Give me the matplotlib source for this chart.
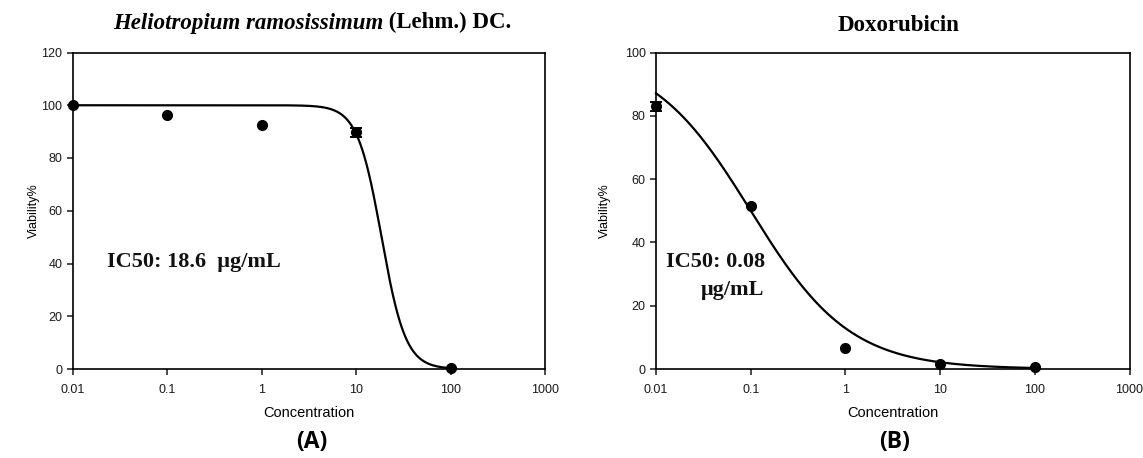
import numpy as np
import matplotlib
matplotlib.use("Agg")
import matplotlib.pyplot as plt

# ---- data ----
conc = [0.01, 0.1, 1, 10, 100]
via_A = [100, 96.2, 92.5, 89.7, 0.3]
err_A = [0, 0, 0, 1.8, 0]
via_B = [83, 51.4, 6.5, 1.5, 0.5]
err_B = [1.4, 0, 0, 0, 0]

# fitted dose-response (Hill) parameters for the curves
fit_A = dict(top=100.0, ic50=18.6, hill=3.4)
fit_B = dict(top=100.0, ic50=0.1, hill=0.83)

title_A_italic = "Heliotropium ramosissimum"
title_A_rest = " (Lehm.) DC."
title_B = "Doxorubicin"
ic50_A = "IC50: 18.6  \u03bcg/mL"
ic50_B1 = "IC50: 0.08"
ic50_B2 = "\u03bcg/mL"
xticks = [0.01, 0.1, 1, 10, 100, 1000]
xticklabels = ["0.01", "0.1", "1", "10", "100", "1000"]
yticks_A = [0, 20, 40, 60, 80, 100, 120]
yticks_B = [0, 20, 40, 60, 80, 100]

def hill(x, top, ic50, hill):
    return top / (1 + (x / ic50) ** hill)

W, H = 1143, 458
fig = plt.figure(figsize=(W / 100, H / 100), dpi=100)

y_top, y_bot = 52.5, 369
axA = fig.add_axes([72.7 / W, 1 - y_bot / H, (545 - 72.7) / W, (y_bot - y_top) / H])
axB = fig.add_axes([656 / W, 1 - y_bot / H, (1129.5 - 656) / W, (y_bot - y_top) / H])

serif = "Liberation Serif"
sans = "Liberation Sans"

def style(ax, yticks, ymax, ylab_x):
    ax.set_xscale("log")
    ax.set_xlim(0.01, 1000)
    ax.set_ylim(0, ymax)
    ax.set_xticks(xticks)
    ax.set_xticklabels(xticklabels)
    ax.minorticks_off()
    ax.set_yticks(yticks)
    ax.set_yticklabels([str(v) for v in yticks])
    for s in ax.spines.values():
        s.set_linewidth(1.2)
    ax.tick_params(direction="out", length=4, width=1.1, labelsize=9,
                   colors="#1a1a1a", top=False, right=False)
    ax.tick_params(axis="x", pad=7)
    ax.tick_params(axis="y", pad=3.5)
    for lab in ax.get_xticklabels() + ax.get_yticklabels():
        lab.set_fontfamily(sans)
    ax.set_xlabel("Concentration", fontsize=10.5, family=sans)
    ax.xaxis.set_label_coords(0.5, -(413 - y_bot) / (y_bot - y_top))
    ax.set_ylabel("Viability%", fontsize=9, family=sans)
    ax.yaxis.set_label_coords(ylab_x, 0.5)

style(axA, yticks_A, 120, (34 - 72.7) / (545 - 72.7))
style(axB, yticks_B, 100, (605 - 656) / (1129.5 - 656))
for lab in axA.xaxis.get_label(), axB.xaxis.get_label():
    lab.set_va("center")
for lab in axA.yaxis.get_label(), axB.yaxis.get_label():
    lab.set_va("center")

xs = np.logspace(-2, 2, 400)

def draw(ax, y, e, fit):
    ax.plot(xs, hill(xs, **fit), color="black", lw=1.6, clip_on=False, zorder=3)
    ax.plot(conc, y, "o", color="black", ms=7, clip_on=False, zorder=4)
    ex = [c for c, v in zip(conc, e) if v > 0]
    ey = [c for c, v in zip(y, e) if v > 0]
    ee = [v for v in e if v > 0]
    ax.errorbar(ex, ey, yerr=ee, fmt="none", ecolor="black", capsize=4,
                elinewidth=1.2, capthick=1.4, clip_on=False, zorder=4)

draw(axA, via_A, err_A, fit_A)
draw(axB, via_B, err_B, fit_B)

# IC50 annotations
fig.text(107 / W, 1 - 262 / H, ic50_A, fontsize=16, family=serif,
         fontweight="bold", va="center", ha="left", color="#111111")
fig.text(715.5 / W, 1 - 262 / H, ic50_B1, fontsize=16, family=serif,
         fontweight="bold", va="center", ha="center", color="#111111")
fig.text(732 / W, 1 - 290 / H, ic50_B2, fontsize=16, family=serif,
         fontweight="bold", va="center", ha="center", color="#111111")

# titles
fig.canvas.draw()
r = fig.canvas.get_renderer()
tfs = 16.5
tmp1 = fig.text(0, 0, title_A_italic, fontsize=tfs, family=serif,
                style="italic", fontweight="bold")
tmp2 = fig.text(0, 0, title_A_rest, fontsize=tfs, family=serif,
                fontweight="bold")
w1 = tmp1.get_window_extent(r).width
w2 = tmp2.get_window_extent(r).width
tmp1.remove(); tmp2.remove()
cx = 312
x0 = cx - (w1 + w2) / 2
fig.text(x0 / W, 1 - 28.5 / H, title_A_italic, fontsize=tfs, family=serif,
         style="italic", fontweight="bold", va="baseline", ha="left")
fig.text((x0 + w1) / W, 1 - 28.5 / H, title_A_rest, fontsize=tfs, family=serif,
         fontweight="bold", va="baseline", ha="left")
fig.text(898 / W, 1 - 31 / H, title_B, fontsize=tfs, family=serif,
         fontweight="bold", va="baseline", ha="center")

# panel labels
fig.text(311.5 / W, 1 - 442 / H, "(A)", fontsize=16.5, family="Open Sans",
         fontweight="bold", va="center", ha="center")
fig.text(895 / W, 1 - 442 / H, "(B)", fontsize=16.5, family="Open Sans",
         fontweight="bold", va="center", ha="center")

fig.savefig("out.png", dpi=100)
